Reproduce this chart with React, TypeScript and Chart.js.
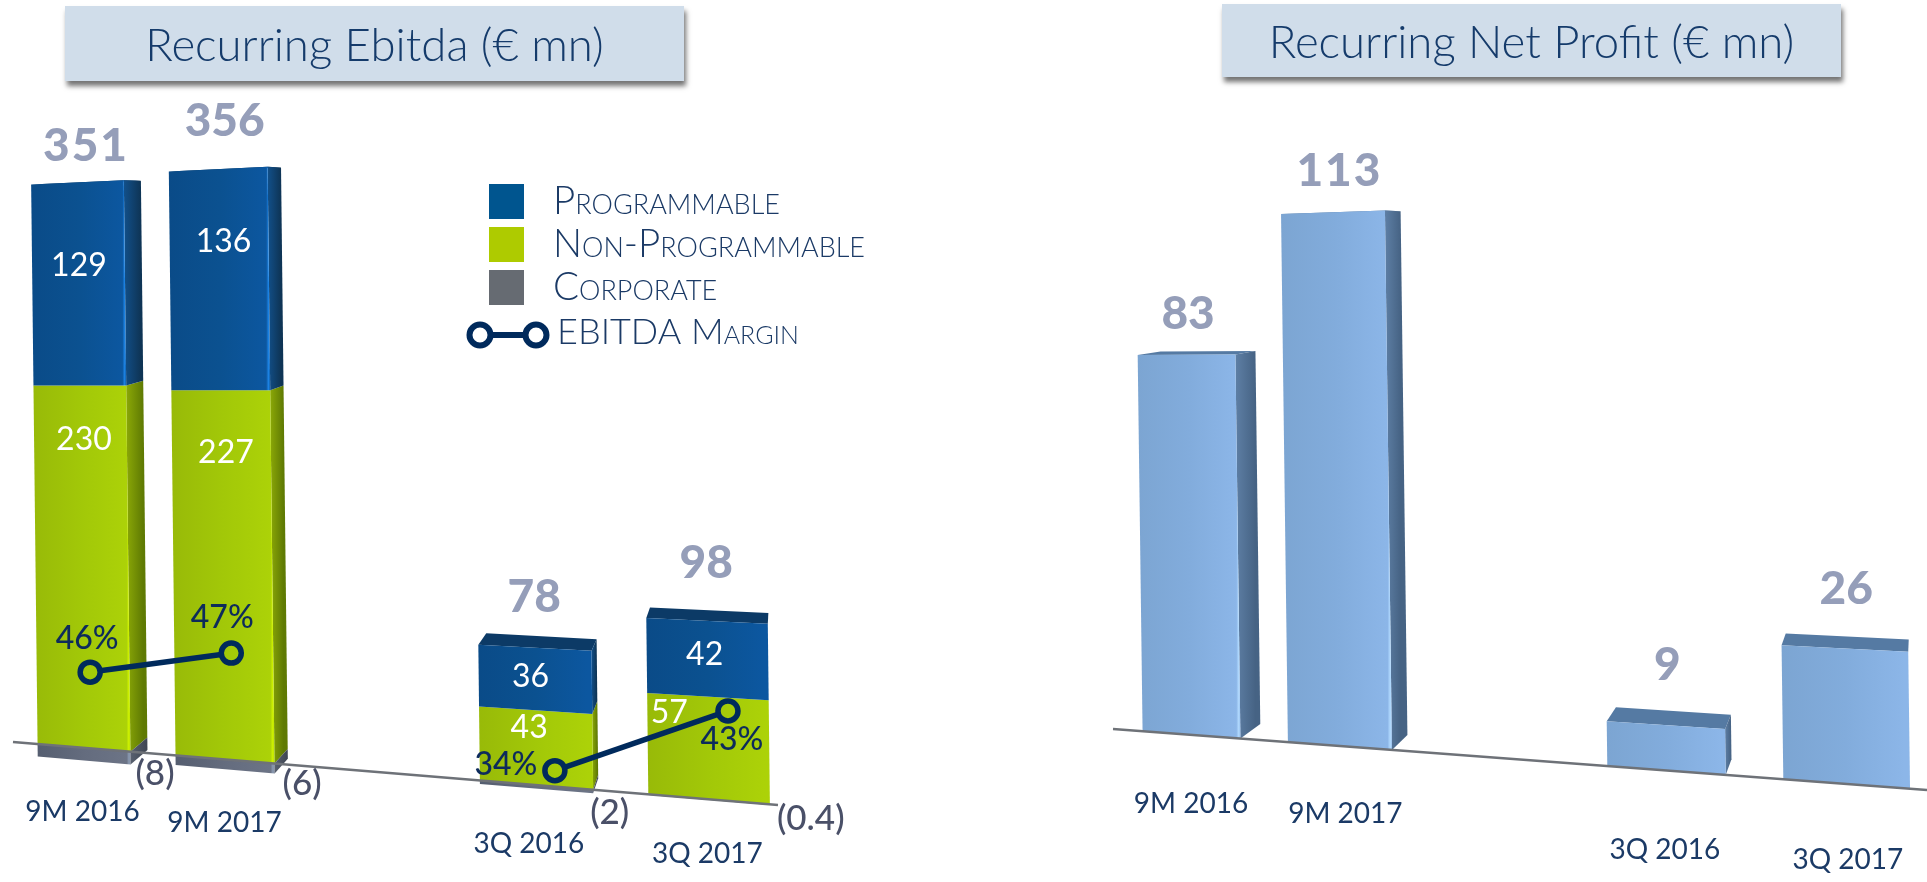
import React, { useEffect, useRef } from "react";
import { Chart, registerables } from "chart.js";

Chart.register(...registerables);

// ---- data ----
const categories = ["9M 2016", "9M 2017", "", "3Q 2016", "3Q 2017"];
const programmable = [129, 136, null, 36, 42];
const nonProgrammable = [230, 227, null, 43, 57];
const corporate = [-8, -6, null, -2, -0.4];
const ebitdaTotals = [351, 356, null, 78, 98];
const margin9M = [46, 47, null, null, null];
const margin3Q = [null, null, null, 34, 43];
const netProfit = [83, 113, null, 9, 26];

const ebitdaTitle = "Recurring Ebitda (€ mn)";
const profitTitle = "Recurring Net Profit (€ mn)";

const FONT = "Lato";
const NAVY = "#002A5C";
const TEXT_BLUE = "#1B3A66";
const TOTAL_GREY = "#959EB9";

// ---- perspective of the pictured 3D plane ----
type View = {
  A: number; B: number; G: number; k0: number; axisX0: number; axisY0: number; slope: number;
  axisX1: number; lean: number; Vx: number; Vy: number; d: number; offsetX: number;
};
const ebitdaView: View = { A: 133.9, B: 83.5, G: 0.0315, k0: 1.575, axisX0: 13, axisY0: 742, slope: 0.0824, axisX1: 778, lean: 0.0115, Vx: 790, Vy: 200, d: 0.0256, offsetX: 0 };
const profitView: View = { A: 107.8, B: 1191, G: 0.0303, k0: 4.58, axisX0: 1113, axisY0: 729, slope: 0.075, axisX1: 1927, lean: 0.013, Vx: 1925, Vy: 236, d: 0.029, offsetX: 950 };

function axisY(view: View, x: number) {
  return view.axisY0 + view.slope * (x - view.axisX0);
}
function project(view: View, t: number, v: number) {
  const w = 1 - view.G * t;
  const x = (view.A * t + view.B) / w;
  const h = (view.k0 * v) / w;
  return { x: x - view.lean * h, y: axisY(view, x) - h };
}
function back(view: View, p: { x: number; y: number }) {
  return { x: p.x + view.d * (view.Vx - p.x), y: p.y + view.d * (view.Vy - p.y) };
}
function quad(ctx: CanvasRenderingContext2D, pts: { x: number; y: number }[], fill: any) {
  ctx.beginPath();
  pts.forEach((p, i) => (i ? ctx.lineTo(p.x, p.y) : ctx.moveTo(p.x, p.y)));
  ctx.closePath();
  ctx.fillStyle = fill;
  ctx.fill();
}
function text(ctx: CanvasRenderingContext2D, s: string, x: number, y: number, font: string, color: string, align: CanvasTextAlign = "center", spacing = "0px") {
  ctx.font = font;
  ctx.fillStyle = color;
  ctx.textAlign = align;
  ctx.textBaseline = "middle";
  (ctx as any).letterSpacing = spacing;
  ctx.fillText(s, x, y);
  (ctx as any).letterSpacing = "0px";
}

type Palette = { front: string[]; side: string[]; top: string; edge: string };
const bluePal: Palette = { front: ["#0A4B88", "#0B5190", "#0C57A0"], side: ["#12508A", "#0E3455"], top: "#0C3A66", edge: "#1E86E8" };
const greenPal: Palette = { front: ["#98BA08", "#A2C808", "#ACD208"], side: ["#8BA807", "#5F7A03"], top: "#7F9A05", edge: "#D2F500" };
const greyPal: Palette = { front: ["#555E70", "#646C7E", "#6C7486"], side: ["#58606F", "#3E4552"], top: "#444", edge: "#8FA0B8" };
const skyPal: Palette = { front: ["#7CA5D2", "#82ACDC", "#8CB6E8"], side: ["#5E7FA5", "#466384"], top: "#557AA3", edge: "#B4DCFF" };

function drawSegment(ctx: CanvasRenderingContext2D, view: View, t: number, hw: number, v0: number, v1: number, pal: Palette, isTop: boolean) {
  const FL0 = project(view, t - hw, v0), FR0 = project(view, t + hw, v0);
  const FL1 = project(view, t - hw, v1), FR1 = project(view, t + hw, v1);
  const BR0 = back(view, FR0), BR1 = back(view, FR1), BL1 = back(view, FL1);
  if (isTop) quad(ctx, [FL1, FR1, BR1, BL1], pal.top);
  if (BR1.x > FR1.x + 1) {
    const s = ctx.createLinearGradient(FR1.x, 0, BR1.x, 0);
    s.addColorStop(0, pal.side[0]);
    s.addColorStop(1, pal.side[1]);
    quad(ctx, [FR0, FR1, BR1, BR0], s);
  }
  const left = Math.min(FL0.x, FL1.x), right = Math.max(FR0.x, FR1.x);
  const g = ctx.createLinearGradient(left, 0, right, 0);
  g.addColorStop(0, pal.front[0]);
  g.addColorStop(0.5, pal.front[1]);
  g.addColorStop(0.96, pal.front[2]);
  if (BR1.x > FR1.x + 6) {
    g.addColorStop(0.985, pal.edge);
    g.addColorStop(1, pal.front[2]);
  } else g.addColorStop(1, pal.front[2]);
  quad(ctx, [FL0, FR0, FR1, FL1], g);
}

// Reads the bar and point elements the library laid out, and draws them on the perspective plane.
function perspectivePlugin(view: View, decorate: (c: any, ctx: CanvasRenderingContext2D, h: any) => void) {
  return {
    id: "perspective",
    beforeDatasetDraw() {
      return false;
    },
    afterDatasetsDraw(chart: any) {
      const ctx: CanvasRenderingContext2D = chart.ctx;
      const xs = chart.scales.x, ys = chart.scales.y;
      const x0 = xs.getPixelForValue(0), slot = xs.getPixelForValue(1) - x0;
      const toT = (px: number) => (px - x0) / slot;
      ctx.save();
      ctx.translate(-view.offsetX, 0);
      const barSets = chart.data.datasets.map((d: any, i: number) => ({ d, i })).filter((o: any) => o.d.type !== "line");
      const n = chart.data.labels.length;
      const segs: Record<string, { t: number; hw: number; v0: number; v1: number }> = {};
      (ctx as any).filter = "blur(0.7px)";
      for (let c = 0; c < n; c++) {
        barSets.forEach(({ d, i }: any) => {
          if (d.data[c] == null) return;
          const el = chart.getDatasetMeta(i).data[c];
          const t = toT(el.x), hw = el.width / 2 / slot;
          const v0 = ys.getValueForPixel(el.base), v1 = ys.getValueForPixel(el.y);
          segs[i + ":" + c] = { t, hw, v0, v1 };
          drawSegment(ctx, view, t, hw, v0, v1, d.palette, !!d.capped);
        });
      }
      (ctx as any).filter = "none";
      // axis line
      ctx.beginPath();
      ctx.moveTo(view.axisX0, axisY(view, view.axisX0));
      ctx.lineTo(view.axisX1, axisY(view, view.axisX1));
      ctx.strokeStyle = "#6E7278";
      ctx.lineWidth = 2.5;
      ctx.stroke();
      // line datasets
      chart.data.datasets.forEach((d: any, i: number) => {
        if (d.type !== "line") return;
        const pts = chart.getDatasetMeta(i).data
          .map((el: any, c: number) => (d.data[c] == null ? null : project(view, toT(el.x) + d.tShift, ys.getValueForPixel(el.y))))
          .filter(Boolean);
        const r = d.pointRadius;
        ctx.strokeStyle = d.borderColor;
        ctx.lineWidth = d.borderWidth;
        for (let j = 0; j + 1 < pts.length; j++) {
          const a = pts[j], b = pts[j + 1];
          const L = Math.hypot(b.x - a.x, b.y - a.y), ux = (b.x - a.x) / L, uy = (b.y - a.y) / L;
          ctx.beginPath();
          ctx.moveTo(a.x + ux * r, a.y + uy * r);
          ctx.lineTo(b.x - ux * r, b.y - uy * r);
          ctx.stroke();
        }
        pts.forEach((p: any) => {
          ctx.beginPath();
          ctx.arc(p.x, p.y, r, 0, Math.PI * 2);
          ctx.stroke();
        });
        d._screen = pts;
      });
      decorate(chart, ctx, { segs, toT, slot });
      ctx.restore();
    },
  };
}

// ---- label placement ----
const ebitdaTotalLift = [36, 48, 0, 50, 58];
const profitTotalLift = [41, 41, 0, 60, 59];
const ebitdaTotalDx = [9, 7, 0, 0, 0];
const profitTotalDx = [2, 7, 0, 2, 2];
const ebitdaTickDrop = [64, 64, 0, 59, 55];
const profitTickDrop = [69, 68, 0, 80, 76];
const ebitdaTickDx = [-1, 0, 0, -7, -1];
const profitTickDx = [0, 6, 0, -1, 2];
const fracProg = [0.59, 0.67, 0, 0.54, 0.56];
const fracNon = [0.85, 0.83, 0, 0.77, 0.84];
const dxProg = [3, 7, 0, -2, 0];
const dxNon = [4, 5, 0, -6, -38];
const corpDx = [5, 8, 0, -3, 7];
const corpDy = [22, 20, 0, 23, 14];
const marginOffsets = [[-3, -33], [-9, -35], [-49, -6], [4, 29]];
const legendRows = [0, 1, 2];

function ticks(chart: any, ctx: CanvasRenderingContext2D, view: View, drop: number[], dx: number[], h: any) {
  const xs = chart.scales.x;
  chart.data.labels.forEach((lab: string, c: number) => {
    if (!lab) return;
    const p = project(view, h.toT(xs.getPixelForValue(c)), 0);
    text(ctx, lab, p.x + dx[c], p.y + drop[c], `400 28px ${FONT}`, TEXT_BLUE);
  });
}

const decorateEbitda = (chart: any, ctx: CanvasRenderingContext2D, h: any) => {
  const view = ebitdaView;
  const ds = chart.data.datasets;
  ticks(chart, ctx, view, ebitdaTickDrop, ebitdaTickDx, h);
  categories.forEach((_, c) => {
    const n = h.segs["0:" + c], p = h.segs["1:" + c], g = h.segs["2:" + c];
    if (!n) return;
    const top = project(view, p.t, p.v1);
    text(ctx, String(ebitdaTotals[c]), top.x + ebitdaTotalDx[c], top.y - ebitdaTotalLift[c], `900 46px ${FONT}`, TOTAL_GREY, "center", c === 0 ? "2px" : "0px");
    const pl = project(view, p.t, p.v0 + (p.v1 - p.v0) * fracProg[c]);
    text(ctx, String(ds[1].data[c]), pl.x - 2 + dxProg[c], pl.y, `400 32px ${FONT}`, "#FFFFFF");
    const nl = project(view, n.t, n.v0 + (n.v1 - n.v0) * fracNon[c]);
    text(ctx, String(ds[0].data[c]), nl.x + dxNon[c], nl.y, `400 32px ${FONT}`, "#FFFFFF");
    const edge = project(view, g.t + g.hw, 0);
    text(ctx, `(${Math.abs(ds[2].data[c])})`, edge.x + corpDx[c], edge.y + corpDy[c], `500 35px ${FONT}`, "#4A5068", "left");
  });
  const marks = [...ds[3]._screen, ...ds[4]._screen];
  const vals = [...margin9M, ...margin3Q].filter((v) => v != null);
  marks.forEach((m: any, i: number) => {
    text(ctx, `${vals[i]}%`, m.x + marginOffsets[i][0], m.y + marginOffsets[i][1], `500 32px ${FONT}`, "#0D2B5B");
  });
  // legend
  const sw = 35;
  legendRows.forEach((r) => {
    const d = [ds[1], ds[0], ds[2]][r];
    ctx.fillStyle = d.legendColor;
    ctx.fillRect(489, 184 + r * 43, sw, sw);
    text(ctx, d.label, 553, 202 + r * 43, `small-caps 300 38.5px ${FONT}`, TEXT_BLUE, "left");
  });
  ctx.strokeStyle = NAVY;
  ctx.lineWidth = 6;
  ctx.beginPath();
  ctx.moveTo(490, 335);
  ctx.lineTo(526, 335);
  ctx.stroke();
  [480, 536].forEach((x) => {
    ctx.beginPath();
    ctx.arc(x, 335, 10.5, 0, Math.PI * 2);
    ctx.stroke();
  });
  text(ctx, ds[3].label, 557, 332, `small-caps 300 36px ${FONT}`, TEXT_BLUE, "left");
};

const decorateProfit = (chart: any, ctx: CanvasRenderingContext2D, h: any) => {
  const view = profitView;
  ticks(chart, ctx, view, profitTickDrop, profitTickDx, h);
  categories.forEach((_, c) => {
    const s = h.segs["0:" + c];
    if (!s) return;
    const top = project(view, s.t, s.v1);
    text(ctx, String(netProfit[c]), top.x + profitTotalDx[c], top.y - profitTotalLift[c], `900 46px ${FONT}`, TOTAL_GREY, "center", c === 1 ? "2px" : "0px");
  });
};

const hiddenScale = { display: false };

function ebitdaConfig(): any {
  return {
    type: "bar",
    data: {
      labels: categories,
      datasets: [
        { label: "Non-Programmable", data: nonProgrammable, backgroundColor: "#AECB00", palette: greenPal, legendColor: "#AECB00", order: 2 },
        { label: "Programmable", data: programmable, backgroundColor: "#00558F", palette: bluePal, legendColor: "#00558F", capped: true, order: 2 },
        { label: "Corporate", data: corporate, backgroundColor: "#666B72", palette: greyPal, legendColor: "#666B72", order: 2 },
        { type: "line", label: "EBITDA Margin", data: margin9M, yAxisID: "y1", borderColor: NAVY, borderWidth: 5.5, pointRadius: 10, tShift: 0.055, order: 1 },
        { type: "line", label: "EBITDA Margin", data: margin3Q, yAxisID: "y2", borderColor: NAVY, borderWidth: 5.5, pointRadius: 10, tShift: 0.115, order: 1 },
      ],
    },
    options: {
      responsive: false,
      animation: false,
      layout: { padding: 0 },
      datasets: { bar: { categoryPercentage: 1, barPercentage: 0.68 } },
      plugins: { legend: { display: false }, tooltip: { enabled: false } },
      scales: {
        x: { ...hiddenScale, stacked: true },
        y: { ...hiddenScale, stacked: true, min: -20, max: 400 },
        y1: { ...hiddenScale, min: 42.05, max: 66.32 },
        y2: { ...hiddenScale, min: 27.53, max: 120.65 },
      },
    },
    plugins: [perspectivePlugin(ebitdaView, decorateEbitda)],
  };
}

function profitConfig(): any {
  return {
    type: "bar",
    data: {
      labels: categories,
      datasets: [{ label: "Recurring Net Profit", data: netProfit, backgroundColor: "#82ACDC", palette: skyPal, capped: true }],
    },
    options: {
      responsive: false,
      animation: false,
      layout: { padding: 0 },
      datasets: { bar: { categoryPercentage: 1, barPercentage: 0.68 } },
      plugins: { legend: { display: false }, tooltip: { enabled: false } },
      scales: { x: { ...hiddenScale }, y: { ...hiddenScale, min: 0, max: 130 } },
    },
    plugins: [perspectivePlugin(profitView, decorateProfit)],
  };
}

function TitleBox(props: { text: string; left: number; top: number; width: number; height: number }) {
  return (
    <div
      style={{
        position: "absolute", left: props.left, top: props.top, width: props.width, height: props.height,
        background: "#D0DDEA", boxShadow: "2px 5px 5px rgba(0,0,0,0.55)", color: "#153B6B",
        font: `300 45.5px ${FONT}`, display: "flex", alignItems: "center", justifyContent: "center", whiteSpace: "nowrap",
      }}
    >
      {props.text}
    </div>
  );
}

function ChartCanvas(props: { make: () => any; left: number; width: number }) {
  const ref = useRef<HTMLCanvasElement>(null);
  useEffect(() => {
    const chart = new Chart(ref.current as HTMLCanvasElement, props.make());
    return () => chart.destroy();
  }, []);
  return <canvas ref={ref} width={props.width} height={882} style={{ position: "absolute", left: props.left, top: 0, width: props.width, height: 882 }} />;
}

export default function App() {
  return (
    <div style={{ position: "absolute", left: 0, top: 0, width: 1927, height: 882, background: "#fff", overflow: "hidden" }}>
      <ChartCanvas make={ebitdaConfig} left={0} width={950} />
      <ChartCanvas make={profitConfig} left={950} width={977} />
      <TitleBox text={ebitdaTitle} left={65} top={6} width={619} height={75} />
      <TitleBox text={profitTitle} left={1222} top={4} width={619} height={73} />
    </div>
  );
}
